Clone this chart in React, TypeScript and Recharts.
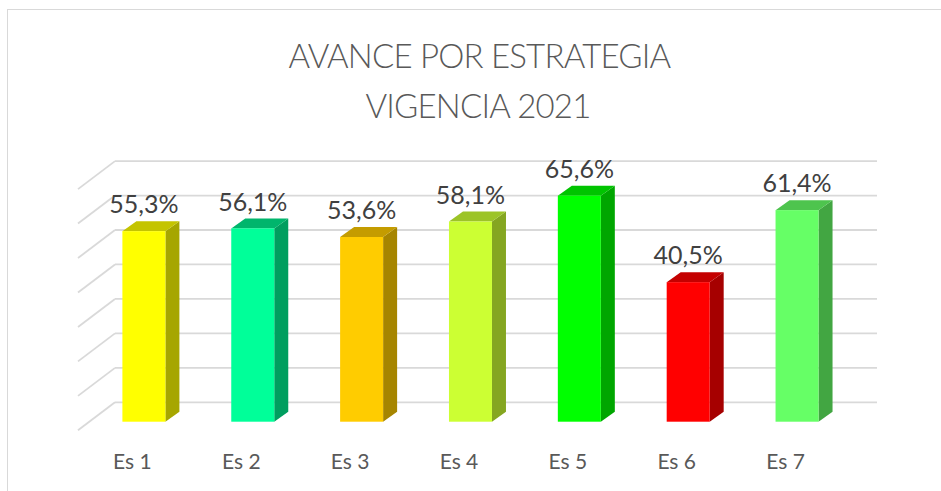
import React from 'react';
import { BarChart, Bar, XAxis, YAxis, CartesianGrid, LabelList } from 'recharts';

const categories = ['Es 1', 'Es 2', 'Es 3', 'Es 4', 'Es 5', 'Es 6', 'Es 7'];
const values = [55.3, 56.1, 53.6, 58.1, 65.6, 40.5, 61.4];
const frontColors = ['#FFFF00', '#00FF99', '#FFCC00', '#CCFF33', '#00FF00', '#FF0000', '#66FF66'];
const topColors = ['#C4C400', '#00B56C', '#C49C00', '#9CC427', '#00C400', '#C40000', '#4EC44E'];
const sideColors = ['#A6A600', '#009E5F', '#A68500', '#85A621', '#00A600', '#A60000', '#42A642'];
const yTicks = [0, 10, 20, 30, 40, 50, 60, 70];
const titleLines = ['AVANCE POR ESTRATEGIA', 'VIGENCIA 2021'];

const data = categories.map((name, i) => ({ name, value: values[i], idx: i }));

// layout / projection constants
const W = 941;
const H = 491;
const PLOT_LEFT = 115;
const PLOT_RIGHT = 877;
const PLOT_TOP = 161.1;
const PLOT_BOTTOM = 402.3;
const X_AXIS_H = 60;
const FLOOR_DX = -37; // back wall -> front edge of floor
const FLOOR_DY = 28;
const FRONT_DX = -25.6; // back wall -> bar front face
const FRONT_DY = 19.4;
const DEPTH_DX = 14; // bar depth
const DEPTH_DY = -10;
const FONT = "Lato, 'Open Sans', sans-serif";

const fmt = (v: number) => v.toFixed(1).replace('.', ',') + '%';

const Bar3D = (props: any) => {
  const { x, y, width, height, index } = props;
  if (height == null || width == null) return null;
  const fx = x + FRONT_DX;
  const fy = y + FRONT_DY;
  const w = width;
  const h = height;
  const i = index ?? 0;
  const side = `${fx + w},${fy} ${fx + w + DEPTH_DX},${fy + DEPTH_DY} ${fx + w + DEPTH_DX},${fy + h + DEPTH_DY} ${fx + w},${fy + h}`;
  const top = `${fx},${fy} ${fx + DEPTH_DX},${fy + DEPTH_DY} ${fx + w + DEPTH_DX},${fy + DEPTH_DY} ${fx + w},${fy}`;
  return (
    <g>
      <polygon points={side} fill={sideColors[i]} />
      <polygon points={top} fill={topColors[i]} />
      <rect x={fx} y={fy} width={w} height={h} fill={frontColors[i]} />
    </g>
  );
};

const ValueLabel = (props: any) => {
  const { x, y, width, value } = props;
  const cx = x + FRONT_DX + width / 2;
  const by = y + FRONT_DY - 17.7;
  return (
    <text x={cx} y={by} textAnchor="middle" fontFamily={FONT} fontSize={25} fill="#404040">
      {fmt(value)}
    </text>
  );
};

const XTick = (props: any) => {
  const { x, payload } = props;
  return (
    <text x={x + FLOOR_DX} y={PLOT_BOTTOM + 67} textAnchor="middle" fontFamily={FONT} fontSize={21} fill="#595959">
      {payload.value}
    </text>
  );
};

const EmptyTick = () => <g />;

const GridLine = (props: any) => {
  const { x1, x2, y1 } = props;
  return (
    <g>
      <line x1={x1} y1={y1} x2={x2} y2={y1} stroke="#D9D9D9" strokeWidth={1.8} />
      <line x1={x1} y1={y1} x2={x1 + FLOOR_DX} y2={y1 + FLOOR_DY} stroke="#D9D9D9" strokeWidth={1.8} />
    </g>
  );
};

export default function App() {
  return (
    <div style={{ position: 'relative', width: W, height: H, overflow: 'hidden', background: '#fff' }}>
      <style>{`body{margin:0}`}</style>
      <div
        style={{
          position: 'absolute',
          left: 7,
          top: 9,
          width: W + 20,
          height: H + 20,
          border: '1.5px solid #D9D9D9',
          boxSizing: 'border-box',
        }}
      />
      <div style={{ position: 'absolute', left: 0, top: 0 }}>
        <BarChart
          width={W}
          height={H}
          data={data}
          margin={{ top: PLOT_TOP, right: W - PLOT_RIGHT, left: PLOT_LEFT, bottom: H - PLOT_BOTTOM - X_AXIS_H }}
        >
          <CartesianGrid vertical={false} horizontal={GridLine as any} syncWithTicks />
          <YAxis
            domain={[0, 70]}
            ticks={yTicks}
            interval={0}
            width={0}
            axisLine={false}
            tickLine={false}
            tick={<EmptyTick />}
          />
          <XAxis dataKey="name" height={X_AXIS_H} axisLine={false} tickLine={false} tick={<XTick />} interval={0} />
          <Bar dataKey="value" barSize={43} shape={<Bar3D />} isAnimationActive={false}>
            <LabelList dataKey="value" content={<ValueLabel />} />
          </Bar>
        </BarChart>
      </div>
      <svg width={W} height={H} style={{ position: 'absolute', left: 0, top: 0, pointerEvents: 'none' }}>
        <text x={479.5} y={68.3} textAnchor="middle" fontFamily={FONT} fontSize={33} fontWeight={300} letterSpacing={-0.8} fill="#595959">
          {titleLines[0]}
        </text>
        <text x={478} y={118} textAnchor="middle" fontFamily={FONT} fontSize={33} fontWeight={300} letterSpacing={-0.8} fill="#595959">
          {titleLines[1]}
        </text>
      </svg>
    </div>
  );
}
